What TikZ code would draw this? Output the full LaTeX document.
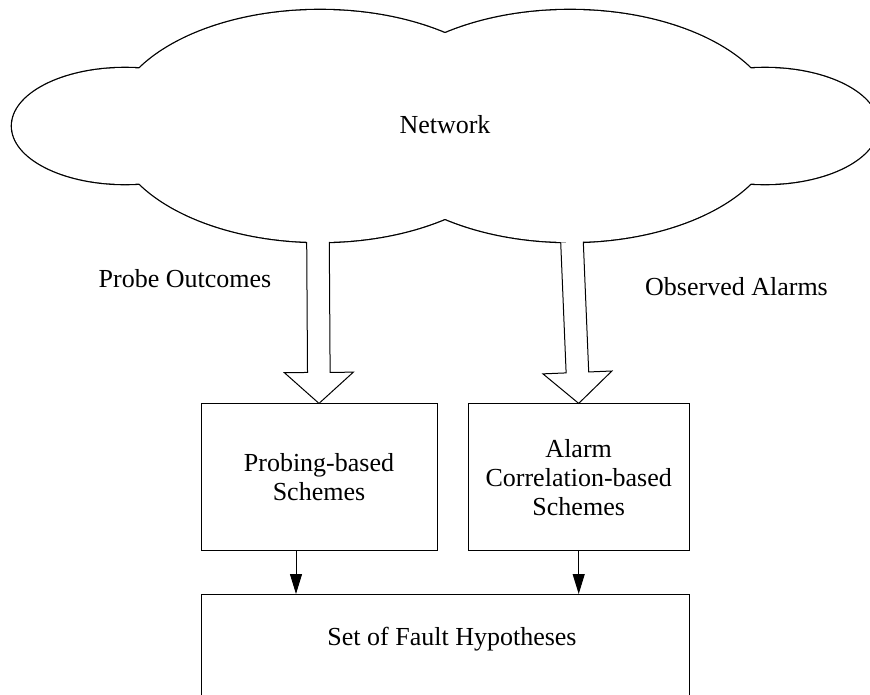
\documentclass[tikz,border=0pt]{standalone}
\usepackage{fontspec}
\setmainfont{Liberation Serif}
\usetikzlibrary{calc,arrows.meta}

% wide hollow arrow from #1 to the tip #2
\newcommand\hollowarrow[2]{%
  \coordinate (hb) at ($(#2)!31pt!(#1)$);
  \draw[hollow] ($(#1)!11.3pt!90:(#2)$) -- ($(hb)!11.3pt!90:(#2)$)
    -- ($(hb)!34.5pt!90:(#2)$) -- (#2) -- ($(hb)!34.5pt!-90:(#2)$)
    -- ($(hb)!11.3pt!-90:(#2)$) -- ($(#1)!11.3pt!-90:(#2)$);
}

\begin{document}
\begin{tikzpicture}[x=1pt,y=-1pt,
  every node/.style={font=\fontsize{26}{29}\selectfont},
  box/.style={draw,line width=1pt,rectangle,inner sep=0pt,align=center},
  hollow/.style={line width=1pt,fill=white,line join=miter},
  link/.style={line width=1pt,-{Triangle[length=20pt,width=12pt]}}]
\useasboundingbox (0,0) rectangle (870,694);

% cloud: the outer half of each thick outline survives the white fill,
% leaving the outline of the union of the four lobes
\foreach \cx/\rx/\ry in {125/113pt/58pt,320/208pt/116pt,570/208pt/116pt,765/113pt/58pt}
  \draw[line width=2.6pt] (\cx,126) ellipse [x radius=\rx,y radius=\ry];
\foreach \cx/\rx/\ry in {125/113pt/58pt,320/208pt/116pt,570/208pt/116pt,765/113pt/58pt}
  \fill[white] (\cx,126) ellipse [x radius=\rx,y radius=\ry];
\node[anchor=base] (net) at (445,133) {Network};

% side labels
\node[anchor=base] (lblp) at (185,287) {Probe Outcomes};
\node[anchor=base] (lbla) at (736.5,295) {Observed Alarms};

% schemes
\node[box,minimum width=236pt,minimum height=147pt] (pbs) at (319,477.4) {Probing-based\\Schemes};
\node[box,minimum width=221pt,minimum height=147pt] (acs) at (578.7,477.4) {Alarm\\Correlation-based\\Schemes};

% result box
\node[box,minimum width=488pt,minimum height=140pt,anchor=north] (hyp) at (445,594) {};
\node[anchor=base] (hyptxt) at (452,645) {Set of Fault Hypotheses};

% flows out of the network
\coordinate (outp) at (318,242);
\coordinate (outa) at (572,242);
\hollowarrow{outp}{pbs.north}
\hollowarrow{outa}{acs.north}

% flows into the hypotheses
\coordinate (dropl) at (296,0);
\draw[link] (pbs.south -| dropl) -- (hyp.north -| dropl);
\draw[link] (acs.south) -- (acs.south |- hyp.north);
\end{tikzpicture}
\end{document}
